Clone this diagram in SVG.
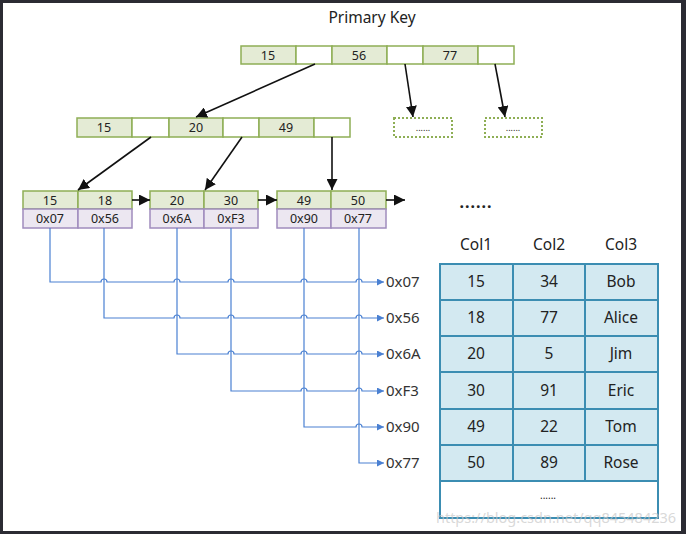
<svg xmlns="http://www.w3.org/2000/svg" width="686" height="534" viewBox="0 0 686 534">
<style>
text{font-family:"Noto Sans","Open Sans","DejaVu Sans",sans-serif;fill:#222;text-anchor:middle}
.k{fill:#e4ebd5;stroke:#8eae55;stroke-width:1.5}
.e{fill:#fff;stroke:#8eae55;stroke-width:1.5}
.p{fill:#ece7f1;stroke:#a08cbd;stroke-width:1.5}
.d{fill:#fff;stroke:#8eae55;stroke-width:2;stroke-dasharray:2 2}
.t{fill:#d3e9f1;stroke:#3b8db2;stroke-width:2}
.s{font-size:12.5px}
.m{font-size:15.5px}
.a{fill:none;stroke:#111;stroke-width:1.6;marker-end:url(#ah)}
.b{fill:none;stroke:#4a80d2;stroke-width:1.2;marker-end:url(#bh)}
.ad{font-size:15px;text-anchor:start;fill:#333}
</style>
<defs>
<marker id="ah" viewBox="0 0 10 10" refX="10" refY="5" markerWidth="11" markerHeight="11" markerUnits="userSpaceOnUse" orient="auto"><path d="M0,0L10,5L0,10z" fill="#111"/></marker>
<marker id="bh" viewBox="0 0 10 10" refX="10" refY="5" markerWidth="7" markerHeight="7" markerUnits="userSpaceOnUse" orient="auto"><path d="M0,0L10,5L0,10z" fill="#4a80d2"/></marker>
</defs>
<rect x="0" y="0" width="686" height="534" fill="#2b2b33"/>
<rect x="3" y="3" width="678" height="528" fill="#fff"/>
<text x="372" y="23" style="font-size:15.5px">Primary Key</text>

<g id="root">
<rect class="k" x="241" y="46" width="55" height="18"/><text class="s" x="268" y="59.5">15</text>
<rect class="e" x="296" y="46" width="36" height="18"/>
<rect class="k" x="332" y="46" width="55" height="18"/><text class="s" x="359" y="59.5">56</text>
<rect class="e" x="387" y="46" width="36" height="18"/>
<rect class="k" x="423" y="46" width="55" height="18"/><text class="s" x="450" y="59.5">77</text>
<rect class="e" x="478" y="46" width="36" height="18"/>
</g>

<g id="inner">
<rect class="k" x="77" y="118" width="55" height="19"/><text class="s" x="104" y="132">15</text>
<rect class="e" x="132" y="118" width="37" height="19"/>
<rect class="k" x="169" y="118" width="54" height="19"/><text class="s" x="196" y="132">20</text>
<rect class="e" x="223" y="118" width="36" height="19"/>
<rect class="k" x="259" y="118" width="55" height="19"/><text class="s" x="286" y="132">49</text>
<rect class="e" x="314" y="118" width="36" height="19"/>
</g>

<g id="more1"><rect class="d" x="394" y="118" width="58" height="19"/><text x="423" y="131" style="font-size:9px">......</text></g>
<g id="more2"><rect class="d" x="485" y="118" width="57" height="19"/><text x="513" y="131" style="font-size:9px">......</text></g>

<g id="leaf1">
<rect class="k" x="23" y="191" width="55" height="18"/><text class="s" x="50" y="205">15</text>
<rect class="k" x="78" y="191" width="54" height="18"/><text class="s" x="105" y="205">18</text>
<rect class="p" x="23" y="209" width="55" height="19"/><text class="s" x="50" y="223">0x07</text>
<rect class="p" x="78" y="209" width="54" height="19"/><text class="s" x="105" y="223">0x56</text>
</g>
<g id="leaf2">
<rect class="k" x="150" y="191" width="54" height="18"/><text class="s" x="177" y="205">20</text>
<rect class="k" x="204" y="191" width="54" height="18"/><text class="s" x="231" y="205">30</text>
<rect class="p" x="150" y="209" width="54" height="19"/><text class="s" x="177" y="223">0x6A</text>
<rect class="p" x="204" y="209" width="54" height="19"/><text class="s" x="231" y="223">0xF3</text>
</g>
<g id="leaf3">
<rect class="k" x="277" y="191" width="54" height="18"/><text class="s" x="304" y="205">49</text>
<rect class="k" x="331" y="191" width="55" height="18"/><text class="s" x="358" y="205">50</text>
<rect class="p" x="277" y="209" width="54" height="19"/><text class="s" x="304" y="223">0x90</text>
<rect class="p" x="331" y="209" width="55" height="19"/><text class="s" x="358" y="223">0x77</text>
</g>

<g id="connectors">
<path class="a" d="M315,64L196,117"/>
<path class="a" d="M405,64L413,117"/>
<path class="a" d="M495,64L505,117"/>
<path class="a" d="M151,137L78,190"/>
<path class="a" d="M242,137L205,190"/>
<path class="a" d="M332,137L332,190"/>
<path class="a" d="M132,200L150,200"/>
<path class="a" d="M258,200L277,200"/>
<path class="a" d="M386,200L405,200"/>
<path class="b" d="M50,228V282H101A3,3 0 0 1 107,282H174A3,3 0 0 1 180,282H228A3,3 0 0 1 234,282H301A3,3 0 0 1 307,282H356A3,3 0 0 1 362,282H384"/>
<path class="b" d="M104,228V318H174A3,3 0 0 1 180,318H228A3,3 0 0 1 234,318H301A3,3 0 0 1 307,318H356A3,3 0 0 1 362,318H384"/>
<path class="b" d="M177,228V354H228A3,3 0 0 1 234,354H301A3,3 0 0 1 307,354H356A3,3 0 0 1 362,354H384"/>
<path class="b" d="M231,228V391H301A3,3 0 0 1 307,391H356A3,3 0 0 1 362,391H384"/>
<path class="b" d="M304,228V427H356A3,3 0 0 1 362,427H384"/>
<path class="b" d="M359,228V463H384"/>
</g>

<g id="addresses">
<text class="ad" x="386" y="287">0x07</text>
<text class="ad" x="386" y="323">0x56</text>
<text class="ad" x="386" y="359">0x6A</text>
<text class="ad" x="386" y="396">0xF3</text>
<text class="ad" x="386" y="432">0x90</text>
<text class="ad" x="386" y="468">0x77</text>
</g>

<text x="476" y="208" style="font-size:16px;font-weight:bold;letter-spacing:1px">......</text>

<g id="table">
<text class="m" x="476" y="250">Col1</text>
<text class="m" x="549" y="250">Col2</text>
<text class="m" x="621" y="250">Col3</text>
<rect class="t" x="440" y="264" width="218" height="217"/>
<rect x="440" y="481" width="218" height="37" fill="#fff" stroke="#3b8db2" stroke-width="2"/>
<path d="M513,264V481M585,264V481M440,300H658M440,336H658M440,372H658M440,409H658M440,445H658" stroke="#3b8db2" stroke-width="2" fill="none"/>
<text class="m" x="476" y="287">15</text><text class="m" x="549" y="287">34</text><text class="m" x="621" y="287">Bob</text>
<text class="m" x="476" y="323">18</text><text class="m" x="549" y="323">77</text><text class="m" x="621" y="323">Alice</text>
<text class="m" x="476" y="359">20</text><text class="m" x="549" y="359">5</text><text class="m" x="621" y="359">Jim</text>
<text class="m" x="476" y="396">30</text><text class="m" x="549" y="396">91</text><text class="m" x="621" y="396">Eric</text>
<text class="m" x="476" y="432">49</text><text class="m" x="549" y="432">22</text><text class="m" x="621" y="432">Tom</text>
<text class="m" x="476" y="468">50</text><text class="m" x="549" y="468">89</text><text class="m" x="621" y="468">Rose</text>
<text x="548" y="499" style="font-size:10px">......</text>
</g>
<text x="556" y="523" style="font-size:14.5px;fill:#c8c8c8;fill-opacity:0.7">https://blog.csdn.net/qq845484236</text>
</svg>
